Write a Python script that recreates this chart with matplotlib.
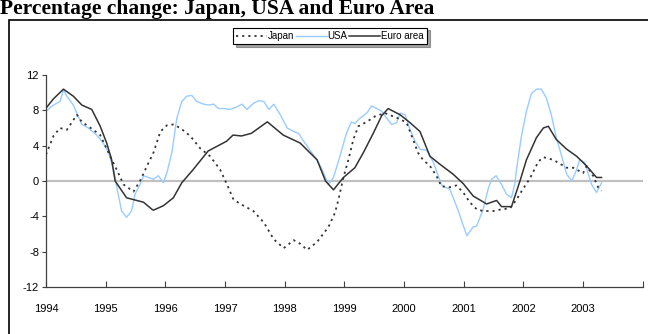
import matplotlib
matplotlib.use("Agg")
import matplotlib.pyplot as plt
import numpy as np
from matplotlib.patches import Rectangle

# series: (months since Jan 1994, % change)
euro_m = [0, 1.5, 3.5, 5.5, 7.2, 9.2, 10.9, 12.2, 13.2, 13.9, 16.2, 19.6, 21.3, 21.6,
          23.6, 25.6, 27.3, 29.6, 32.6, 36.3, 37.6, 39.3, 41.3, 44.5, 47.7, 51.1,
          54.5, 56.2, 57.8, 59.8, 62.1, 63.8, 65.8, 67.5, 68.8, 71.2, 73.2, 75.2,
          77.2, 79.2, 81.9, 83.9, 85.9, 88.6, 90.6, 91.6, 93.6, 95.3, 96.6, 98.6,
          100, 101, 102.6, 104.7, 106.7, 108.7, 110.7, 111.7]
euro_v = [8.25, 9.3, 10.4, 9.6, 8.6, 8.1, 6.2, 4.3, 2.4, 0.0, -1.9, -2.4, -3.2, -3.3,
          -2.8, -1.9, -0.2, 1.3, 3.4, 4.5, 5.2, 5.1, 5.4, 6.7, 5.2, 4.3,
          2.4, 0.0, -1.0, 0.4, 1.5, 3.2, 5.4, 7.4, 8.2, 7.5, 6.6, 5.6,
          2.8, 1.9, 0.75, -0.3, -1.7, -2.6, -2.2, -2.9, -2.9, 0.0, 2.4, 4.9,
          6.0, 6.2, 4.7, 3.6, 2.8, 1.7, 0.4, 0.4]

japan_m = [0, 1.5, 2.8, 4.2, 6.2, 7.2, 9.5, 10.9, 12.9, 14.2, 15.6, 17.6, 18.9,
           20.3, 21.6, 23, 24.3, 25.6, 27, 29, 31, 33, 35, 36.4, 37.7, 39.1,
           41.7, 43.8, 45.8, 47.8, 49.8, 51.1, 52.5, 54.5, 56.8, 58.1, 58.8,
           59.4, 59.8, 60.8, 61.8, 62.8, 64.5, 66.1, 68.1, 71.2, 72.5, 73.8,
           74.8, 75.8, 77.2, 78.5, 79.5, 81.2, 82.5, 83.9, 85.2, 86.6, 87.9,
           89.9, 91.6, 93.3, 94.6, 95.9, 97.3, 99, 100, 102, 104.7, 106, 108,
           108.7, 110, 111, 111.7]
japan_v = [3.0, 5.1, 6.0, 5.8, 7.5, 6.7, 5.8, 5.2, 2.8, 1.3, -0.4, -1.2, 0.0,
           1.7, 3.2, 5.6, 6.3, 6.4, 6.0, 5.1, 3.7, 2.8, 1.3, -0.4, -2.1, -2.6,
           -3.4, -4.7, -6.6, -7.6, -6.7, -7.1, -7.8, -6.9, -5.2, -3.6, -2.1,
           -0.6, 0.4, 2.4, 4.7, 6.2, 6.7, 7.3, 7.7, 7.0, 6.6, 4.7,
           3.2, 2.4, 1.7, 0.6, -0.6, -0.7, -0.5, -1.3, -2.4, -3.2, -3.4,
           -3.4, -3.2, -3.1, -2.1, -0.9, 0.3, 2.2, 2.7, 2.4, 1.5, 1.5, 0.9,
           1.7, 0.6, -0.7, -1.1]

usa_m = [0, 1.5, 2.8, 3.5, 4.2, 5.5, 7.2, 8.5, 10.2, 11.5, 12.6, 13.6, 14.2, 15.2,
         16.2, 17.2, 17.9, 18.9, 19.6, 20.6, 21.6, 22.6, 23.6, 24.3, 25.3, 26.3,
         27.3, 28.3, 29.3, 30.3, 31.7, 32.7, 33.7, 34.7, 36, 37, 38.4, 39.4,
         40.4, 41.7, 42.8, 43.8, 44.8, 45.8, 47.1, 48.5, 49.8, 50.8, 51.8, 53.2,
         54.5, 55.5, 56.8, 57.8, 59.1, 60.4, 61.4, 62.1, 63.1, 64.5, 65.5, 67.5,
         68.5, 69.5, 70.5, 71.2, 72.2, 73.2, 74.2, 75.2, 76.5, 77.9, 79.5, 80.2,
         81.2, 82.9, 84.6, 85.9, 86.6, 87.9, 88.9, 89.6, 90.5, 91.6, 92.6, 93.6,
         94.3, 94.6, 95.6, 96.6, 97.6, 98.6, 99.6, 100.6, 101.6, 102.6, 103.6,
         104.7, 105.7, 106.7, 107.3, 108.3, 109.7, 110.7, 111.7]
usa_v = [7.9, 8.6, 9.0, 10.3, 9.6, 8.6, 6.4, 6.0, 5.2, 4.3, 3.2, 1.3, -0.6, -3.4,
         -4.1, -3.4, -1.5, -0.4, 0.6, 0.4, 0.2, 0.6, -0.2, 0.9, 3.2, 7.1,
         9.0, 9.6, 9.7, 9.0, 8.7, 8.6, 8.7, 8.2, 8.2, 8.1, 8.4, 8.7,
         8.1, 8.8, 9.1, 9.0, 8.1, 8.7, 7.5, 6.0, 5.6, 5.4, 4.5, 3.4,
         2.4, 1.3, -0.4, 0.4, 2.8, 5.4, 6.7, 6.5, 7.1, 7.7, 8.5, 7.9,
         7.1, 6.4, 6.6, 7.7, 7.5, 5.8, 4.5, 3.6, 3.5, 2.1, -0.4, -0.7,
         -0.9, -3.4, -6.2, -5.2, -5.1, -3.2, -0.9, 0.2, 0.6, -0.4, -1.5, -1.9,
         -0.2, 1.3, 5.1, 7.9, 9.9, 10.4, 10.4, 9.4, 7.5, 4.9, 3.0,
         0.75, 0.0, 1.3, 2.4, 2.1, -0.4, -1.3, -0.2]

years = list(range(1994, 2005))
year_labels = [str(y) for y in range(1994, 2004)] + [""]
y_ticks = [-12, -8, -4, 0, 4, 8, 12]

def to_year(m):
    return 1994 + np.array(m) / 12.0

plt.rcParams['font.family'] = ['Liberation Sans', 'DejaVu Sans']

fig = plt.figure(figsize=(6.48, 3.34), dpi=100)
ax = fig.add_axes([0.071, 0.1407, 0.921, 0.6347])

ax.axhline(0, color='#c0c0c0', lw=1.6, zorder=1)
l1, = ax.plot(to_year(japan_m), japan_v, color='#333333', lw=1.3,
              linestyle=(0, (1.2, 2.2)), label='Japan', zorder=3)
l2, = ax.plot(to_year(usa_m), usa_v, color='#99ccff', lw=1.0, label='USA', zorder=2)
l3, = ax.plot(to_year(euro_m), euro_v, color='#333333', lw=1.1, label='Euro area', zorder=4)

ax.set_xlim(1994, 2004)
ax.set_ylim(-12, 12)
ax.set_xticks(years)
ax.set_xticklabels(year_labels)
ax.set_yticks(y_ticks)
ax.set_yticklabels([str(v) for v in y_ticks])
ax.tick_params(axis='x', direction='in', length=4, width=0.8, color='#404040',
               labelsize=8, pad=12)
ax.tick_params(axis='y', direction='out', length=3, width=0.8, color='#404040',
               labelsize=8, pad=2)
for s in ['top', 'right']:
    ax.spines[s].set_visible(False)
for s in ['left', 'bottom']:
    ax.spines[s].set_color('#404040')
    ax.spines[s].set_linewidth(0.9)

leg = fig.legend(handles=[l1, l2, l3], loc='center', bbox_to_anchor=(0.509, 0.892),
                 ncol=3, fontsize=7, frameon=True, fancybox=False, shadow=True,
                 handlelength=3.2, handletextpad=0.1, columnspacing=0.1,
                 borderpad=0.35, borderaxespad=0)
leg.get_frame().set_edgecolor('black')
leg.get_frame().set_linewidth(0.8)

# outer chart frame
fig.patches.append(Rectangle((0.0139, -0.05), 1.0, 0.99, transform=fig.transFigure,
                             fill=False, edgecolor='black', lw=1.2))

fig.text(0.0, 0.958, 'Percentage change: Japan, USA and Euro Area',
         family=['Liberation Serif', 'DejaVu Serif'], fontweight='bold',
         fontsize=15.5, ha='left', va='baseline')

fig.savefig('out.png', dpi=100)
